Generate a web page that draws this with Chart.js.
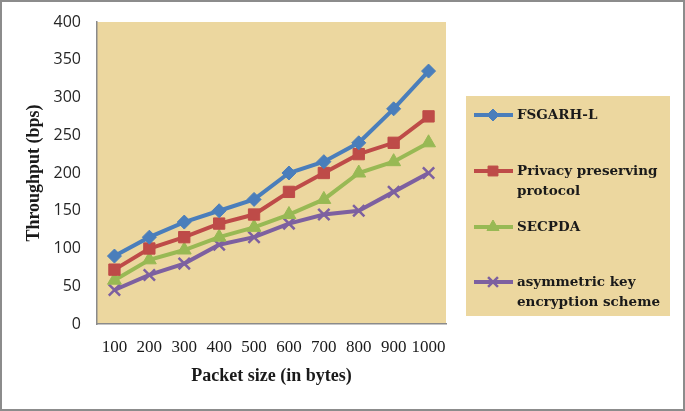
<!DOCTYPE html>
<html>
<head>
<meta charset="utf-8">
<script src="https://cdn.jsdelivr.net/npm/chart.js@4/dist/chart.umd.min.js"></script>
<style>
    html, body { margin: 0; padding: 0; background: #fff; }
    #marco {
        position: relative;
        width: 681px;
        height: 407px;
        border: 2px solid #8c8c8c;
        background: #fff;
    }
    #grafico { display: block; }
</style>
</head>
<body>
<div id="marco">
    <canvas id="grafico" width="681" height="407"></canvas>
</div>
<script>
// Datos del gráfico
const tamanosPaquete = ['100', '200', '300', '400', '500', '600', '700', '800', '900', '1000'];
const fsgarh = [90, 115, 135, 150, 165, 200, 215, 240, 285, 335];
const privacidad = [72, 100, 115, 133, 145, 175, 200, 225, 240, 275];
const secpda = [58, 85, 98, 115, 128, 145, 165, 200, 215, 240];
const asimetrico = [45, 65, 80, 105, 115, 133, 145, 150, 175, 200];
const ticksY = [0, 50, 100, 150, 200, 250, 300, 350, 400];

// Colores
const COLORES = {
    azul: '#4a7ebb',
    rojo: '#be4b48',
    verde: '#98b954',
    violeta: '#7d60a0',
    papiro: '#ecd79f',
    eje: '#8a8a8a'
};

// Líneas de la leyenda (texto partido como en el original)
const leyendaTextos = [
    ['FSGARH-L'],
    ['Privacy preserving', 'protocol'],
    ['SECPDA'],
    ['asymmetric key', 'encryption scheme']
];

// Fondo del área del gráfico
const fondoPapiro = {
    id: 'fondoPapiro',
    beforeDraw(chart) {
        const { ctx, chartArea: a } = chart;
        ctx.save();
        ctx.fillStyle = COLORES.papiro;
        ctx.fillRect(a.left, a.top, a.right - a.left, a.bottom - a.top);
        ctx.restore();
    }
};

// Leyenda dibujada a mano a la derecha
const leyendaCaja = {
    id: 'leyendaCaja',
    afterDraw(chart) {
        const ctx = chart.ctx;
        const caja = { x: 464, y: 94, w: 204, h: 220 };
        const filas = [113, 169, 225, 280];
        ctx.save();
        ctx.fillStyle = COLORES.papiro;
        ctx.fillRect(caja.x, caja.y, caja.w, caja.h);
        chart.data.datasets.forEach((ds, i) => {
            const y = filas[i];
            ctx.strokeStyle = ds.borderColor;
            ctx.lineWidth = 4;
            ctx.beginPath();
            ctx.moveTo(472, y);
            ctx.lineTo(511, y);
            ctx.stroke();
            ctx.fillStyle = ds.pointBackgroundColor;
            ctx.strokeStyle = ds.pointBorderColor;
            ctx.lineWidth = ds.pointBorderWidth;
            Chart.helpers.drawPoint(ctx, {
                pointStyle: ds.pointStyle,
                radius: ds.pointRadius - 1,
                borderWidth: ds.pointBorderWidth
            }, 491, y);
            ctx.fillStyle = '#1a1a1a';
            ctx.font = 'bold 13.5px "DejaVu Serif", serif';
            ctx.textBaseline = 'middle';
            leyendaTextos[i].forEach((t, j) => {
                ctx.fillText(t, 515, y + j * 20);
            });
        });
        ctx.restore();
    }
};

// Estilo de cada serie
function estiloSerie(etiqueta, datos, color, forma, radio) {
    return {
        label: etiqueta,
        data: datos,
        borderColor: color,
        backgroundColor: color,
        pointBackgroundColor: color,
        pointBorderColor: color,
        borderWidth: 4,
        pointStyle: forma,
        pointRadius: radio,
        pointBorderWidth: forma === 'crossRot' ? 2.5 : 1,
        tension: 0,
        fill: false,
        clip: false
    };
}

const ctx = document.getElementById('grafico').getContext('2d');

new Chart(ctx, {
    type: 'line',
    data: {
        labels: tamanosPaquete,
        datasets: [
            estiloSerie('FSGARH-L', fsgarh, COLORES.azul, 'rectRot', 7),
            estiloSerie('Privacy preserving protocol', privacidad, COLORES.rojo, 'rect', 8),
            estiloSerie('SECPDA', secpda, COLORES.verde, 'triangle', 8),
            estiloSerie('asymmetric key encryption scheme', asimetrico, COLORES.violeta, 'crossRot', 8)
        ]
    },
    options: {
        responsive: false,
        animation: false,
        devicePixelRatio: 1,
        layout: {
            autoPadding: false,
            padding: { top: 20, right: 237, left: 22, bottom: 22 }
        },
        plugins: {
            legend: { display: false },
            tooltip: { enabled: false }
        },
        scales: {
            x: {
                offset: true,
                grid: { display: false, drawTicks: false },
                border: { color: COLORES.eje, width: 1.5 },
                ticks: {
                    color: '#1a1a1a',
                    padding: 13,
                    maxRotation: 0,
                    autoSkip: false,
                    font: { family: '"Liberation Serif", serif', size: 17 }
                },
                title: {
                    display: true,
                    text: 'Packet size (in bytes)',
                    color: '#1a1a1a',
                    padding: 0,
                    font: { family: '"Liberation Serif", serif', size: 18, weight: 'bold' }
                },
                afterFit(escala) { escala.height = 63; }
            },
            y: {
                min: 0,
                max: 400,
                afterBuildTicks(escala) {
                    escala.ticks = ticksY.map(v => ({ value: v }));
                },
                // marcas invisibles: solo separan las etiquetas del eje
                grid: { display: false, drawTicks: true, tickLength: 13 },
                border: { color: COLORES.eje, width: 1.5 },
                ticks: {
                    color: '#262626',
                    padding: 3,
                    font: { family: '"Open Sans", sans-serif', size: 16 }
                },
                title: {
                    display: true,
                    text: 'Throughput (bps)',
                    color: '#1a1a1a',
                    padding: 0,
                    font: { family: '"Liberation Serif", serif', size: 18, weight: 'bold' }
                },
                afterFit(escala) { escala.width = 73; }
            }
        }
    },
    plugins: [fondoPapiro, leyendaCaja]
});
</script>
</body>
</html>
